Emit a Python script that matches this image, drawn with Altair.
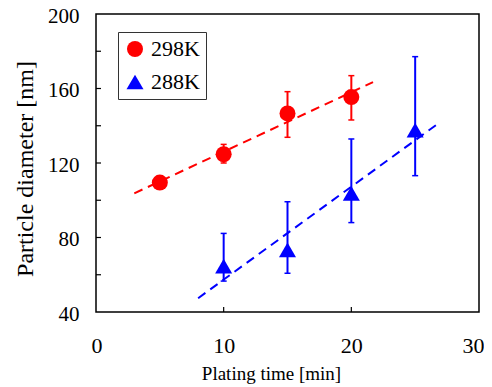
import altair as alt
import pandas as pd

series = ["298K", "288K"]
colors = ["#ff0000", "#0000ff"]
shapes = ["circle", "triangle-up"]
marker_sizes = [256, 290]

t_298 = [5, 10, 15, 20]
d_298 = [109.5, 124.7, 146.6, 155.4]
lo_298 = [106.5, 120.0, 133.8, 143.1]
hi_298 = [112.5, 130.0, 158.3, 166.9]

t_288 = [10, 15, 20, 25]
d_288 = [64.6, 73.3, 103.7, 137.6]
lo_288 = [56.6, 60.8, 88.0, 113.2]
hi_288 = [82.2, 99.2, 132.9, 177.1]

fit_extent_298 = [3, 21.7]
fit_extent_288 = [8, 27]

x_labels = [0, 10, 20, 30]
y_labels = [40, 80, 120, 160, 200]
x_inner_ticks = [10, 20]
y_inner_ticks = [60, 80, 100, 120, 140, 160, 180]

W, H = 383, 298
FONT = "Liberation Serif"

df = pd.DataFrame({
    "series": ["298K"] * 4 + ["288K"] * 4,
    "t": t_298 + t_288,
    "d": d_298 + d_288,
    "lo": lo_298 + lo_288,
    "hi": hi_298 + hi_288,
})

xaxis = alt.Axis(values=x_labels, title="Plating time [min]", grid=False, ticks=False,
                 domain=False, tickSize=0, labelPadding=23, labelFlush=True, labelFlushOffset=5,
                 labelOverlap=False, labelFont=FONT, labelFontSize=22, labelColor="black",
                 titleFont=FONT, titleFontSize=19, titleFontWeight="normal", titleColor="black",
                 titleX=175, titleY=67, titleBaseline="alphabetic")
yaxis = alt.Axis(values=y_labels, title="Particle diameter [nm]", grid=False, ticks=False,
                 domain=False, tickSize=0, labelPadding=17, labelFlush=False, labelOffset=2,
                 labelOverlap=False, labelFont=FONT, labelFontSize=21, labelColor="black",
                 titleFont=FONT, titleFontSize=24, titleFontWeight="normal", titleColor="black",
                 titleX=-64, titleY=154.5, titleBaseline="alphabetic")

xs = alt.Scale(domain=[0, 30], nice=False, zero=False)
ys = alt.Scale(domain=[40, 200], nice=False, zero=False)

def X(field="t"):
    return alt.X(f"{field}:Q", scale=xs, axis=xaxis)

def Y(field="d"):
    return alt.Y(f"{field}:Q", scale=ys, axis=yaxis)

base = alt.Chart(df)

layers = []
extents = [fit_extent_298, fit_extent_288]
for s, col, ext in zip(series, colors, extents):
    sub = base.transform_filter(alt.datum.series == s)
    layers.append(
        sub.transform_regression("t", "d", extent=ext)
        .mark_line(strokeWidth=2, strokeDash=[9, 6], color=col)
        .encode(x=X(), y=Y())
    )
    layers.append(sub.mark_rule(strokeWidth=2, color=col).encode(x=X(), y=Y("lo"), y2="hi:Q"))
    for f in ["lo", "hi"]:
        layers.append(
            sub.mark_tick(orient="horizontal", size=6, thickness=1.5, opacity=1, color=col)
            .encode(x=X(), y=Y(f))
        )

leg = alt.Legend(title=None, orient="none", legendX=22, legendY=18, labelFont=FONT)
points = base.mark_point(filled=True, opacity=1, strokeWidth=0).encode(
    x=X(), y=Y(),
    color=alt.Color("series:N", scale=alt.Scale(domain=series, range=colors), legend=leg),
    shape=alt.Shape("series:N", scale=alt.Scale(domain=series, range=shapes), legend=leg),
    size=alt.Size("series:N", scale=alt.Scale(domain=series, range=marker_sizes), legend=None),
)
layers.append(points)

ytick_df = pd.DataFrame({"d": y_inner_ticks})
xtick_df = pd.DataFrame({"t": x_inner_ticks})
layers.append(alt.Chart(ytick_df).mark_rule(color="black", strokeWidth=1.2).encode(
    y=Y(), x=alt.value(0), x2=alt.value(5)))
layers.append(alt.Chart(xtick_df).mark_rule(color="black", strokeWidth=1.2).encode(
    x=X(), y=alt.value(H), y2=alt.value(H - 5)))

chart = alt.layer(*layers).properties(
    width=W, height=H,
    autosize=alt.AutoSizeParams(type="none"),
    padding={"left": 88, "top": 6, "right": 5, "bottom": 73},
).configure(font=FONT).configure_axis(
    labelFont=FONT, titleFont=FONT,
).configure_view(stroke="black", strokeWidth=1.5).configure_legend(
    strokeColor="#333333", strokeWidth=1,
    fillColor="white", padding=6, rowPadding=11, labelFont=FONT, labelFontSize=22,
    labelColor="black", symbolSize=256, labelOffset=5, symbolStrokeWidth=0,
)

chart.save("out.html", embed_options={"renderer": "svg", "actions": False})
